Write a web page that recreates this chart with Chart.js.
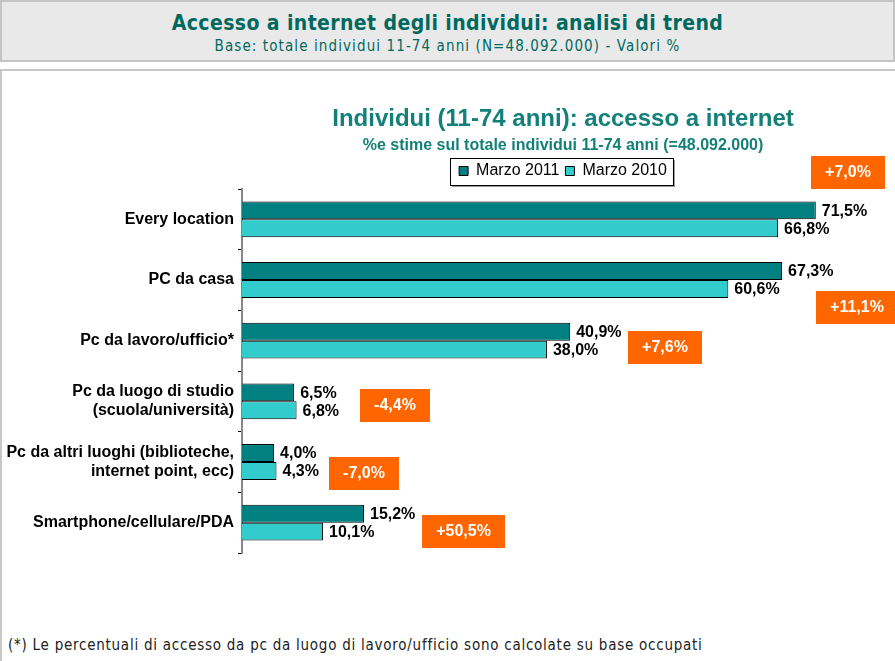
<!DOCTYPE html>
<html>
<head>
<meta charset="utf-8">
<script src="https://cdn.jsdelivr.net/npm/chart.js@4"></script>
<style>
  body { margin: 0; width: 895px; height: 661px; overflow: hidden; background: #fff; position: relative;
         font-family: "DejaVu Sans Condensed", "DejaVu Sans", sans-serif; }
  #head { position: absolute; left: 0; top: 0; width: 895px; height: 62px; box-sizing: border-box;
          background: #e9e9e9; border: 2px solid #c4c4c4; text-align: center; color: #00695f; }
  #head .t { font-size: 21px; font-weight: bold; letter-spacing: 0.4px; margin-top: 9px; }
  #head .s { font-size: 15px; letter-spacing: 1.1px; margin-top: 2px; }
  #panel { position: absolute; left: 0; top: 69px; width: 895px; height: 592px; box-sizing: border-box;
           border-top: 2px solid #c8c8c8; border-left: 2px solid #c8c8c8; }
  #note { position: absolute; left: 8px; top: 636px; font-size: 15px; letter-spacing: 0.75px; color: #222; }
  #wrap { position: absolute; left: 0; top: 0; width: 895px; height: 661px; }
</style>
</head>
<body>
<div id="head">
  <div class="t">Accesso a internet degli individui: analisi di trend</div>
  <div class="s">Base: totale individui 11-74 anni (N=48.092.000) - Valori %</div>
</div>
<div id="panel"></div>
<div id="note">(*) Le percentuali di accesso da pc da luogo di lavoro/ufficio sono calcolate su base occupati</div>
<div id="wrap"><canvas id="chart" width="895" height="661"></canvas></div>

<script>
const categories = [
    ['Every location'],
    ['PC da casa'],
    ['Pc da lavoro/ufficio*'],
    ['Pc da luogo di studio', '(scuola/università)'],
    ['Pc da altri luoghi (biblioteche,', 'internet point, ecc)'],
    ['Smartphone/cellulare/PDA']
];
const marzo2011 = [71.5, 67.3, 40.9, 6.5, 4.0, 15.2];
const marzo2010 = [66.8, 60.6, 38.0, 6.8, 4.3, 10.1];
const variazioni = ['+7,0%', '+11,1%', '+7,6%', '-4,4%', '-7,0%', '+50,5%'];

const FONT = '"Liberation Sans", Arial, sans-serif';
const fmt = v => v.toFixed(1).replace('.', ',') + '%';

// etichette valore a destra delle barre
const valueLabels = {
    id: 'valueLabels',
    afterDatasetsDraw(chart) {
        const ctx = chart.ctx;
        ctx.save();
        ctx.font = 'bold 16px ' + FONT;
        ctx.fillStyle = '#000';
        ctx.textBaseline = 'middle';
        chart.data.datasets.forEach((ds, d) => {
            chart.getDatasetMeta(d).data.forEach((bar, i) => {
                ctx.fillText(fmt(ds.data[i]), bar.x + 6, bar.y + 1);
            });
        });
        ctx.restore();
    }
};

// box arancioni con la variazione
const deltaBoxes = {
    id: 'deltaBoxes',
    afterDraw(chart, args, opts) {
        const ctx = chart.ctx;
        const xs = chart.scales.x, ys = chart.scales.y;
        ctx.save();
        ctx.font = 'bold 16px ' + FONT;
        variazioni.forEach((txt, i) => {
            const p = opts.pos[i];
            const w = Math.round(ctx.measureText(txt).width + 28);
            const x = Math.round(xs.getPixelForValue(p.x));
            const y = Math.round(ys.getPixelForValue(i) + p.dy);
            ctx.fillStyle = '#FF6600';
            ctx.fillRect(x, y - 16, w, 33);
            ctx.fillStyle = '#fff';
            ctx.textAlign = 'center';
            ctx.textBaseline = 'middle';
            ctx.fillText(txt, x + w / 2, y + 1);
        });
        ctx.restore();
    }
};

// cornice della legenda
const legendFrame = {
    id: 'legendFrame',
    afterDraw(chart) {
        const boxes = chart.legend.legendHitBoxes;
        if (!boxes || !boxes.length) return;
        const l = Math.min(...boxes.map(b => b.left)) - 9;
        const r = Math.max(...boxes.map(b => b.left + b.width)) + 6;
        const cy = boxes[0].top + boxes[0].height / 2;
        const t = cy - 13;
        const h = 27;
        const ctx = chart.ctx;
        ctx.save();
        ctx.fillStyle = '#999';
        ctx.fillRect(l + 2, t + h, r - l, 2);
        ctx.fillRect(r, t + 2, 2, h);
        ctx.strokeStyle = '#000';
        ctx.lineWidth = 1;
        ctx.strokeRect(Math.round(l) + 0.5, Math.round(t) + 0.5, Math.round(r - l), Math.round(h));
        ctx.restore();
    }
};

new Chart(document.getElementById('chart'), {
    type: 'bar',
    data: {
        labels: categories,
        datasets: [
            { label: 'Marzo 2011', data: marzo2011, backgroundColor: '#008080', borderColor: '#000', borderWidth: 1 },
            { label: 'Marzo 2010', data: marzo2010, backgroundColor: '#33CCCC', borderColor: '#000', borderWidth: 1 }
        ]
    },
    options: {
        indexAxis: 'y',
        responsive: false,
        animation: false,
        categoryPercentage: 0.59,
        barPercentage: 1,
        layout: { padding: { top: 92, right: 11, bottom: 108, left: 0 } },
        scales: {
            x: { display: false, min: 0, max: 80 },
            y: {
                afterFit: s => { s.width = 242; },
                grid: { offset: true, drawOnChartArea: false, tickLength: 4, color: '#000' },
                border: { color: '#888', width: 2 },
                ticks: { color: '#000', padding: 4, font: { family: FONT, size: 16, weight: 'bold' } }
            }
        },
        plugins: {
            title: {
                display: true, fullSize: false,
                text: 'Individui (11-74 anni): accesso a internet',
                color: '#138079',
                font: { family: FONT, size: 24, weight: 'bold' },
                padding: { top: 13, bottom: 0 }
            },
            subtitle: {
                display: true, fullSize: false,
                text: '%e stime sul totale individui 11-74 anni (=48.092.000)',
                color: '#138079',
                font: { family: FONT, size: 16, weight: 'bold' },
                padding: { top: 2, bottom: 2 }
            },
            legend: {
                fullSize: false,
                labels: { color: '#000', boxWidth: 9, boxHeight: 9, padding: 6, font: { family: FONT, size: 16 } }
            },
            tooltip: { enabled: false },
            deltaBoxes: {
                pos: [
                    { x: 70.9, dy: -47 },
                    { x: 71.5, dy: 26.5 },
                    { x: 48.1, dy: 6.5 },
                    { x: 14.7, dy: 4 },
                    { x: 10.8, dy: 10.5 },
                    { x: 22.4, dy: 8.5 }
                ]
            }
        }
    },
    plugins: [valueLabels, deltaBoxes, legendFrame]
});
</script>
</body>
</html>
